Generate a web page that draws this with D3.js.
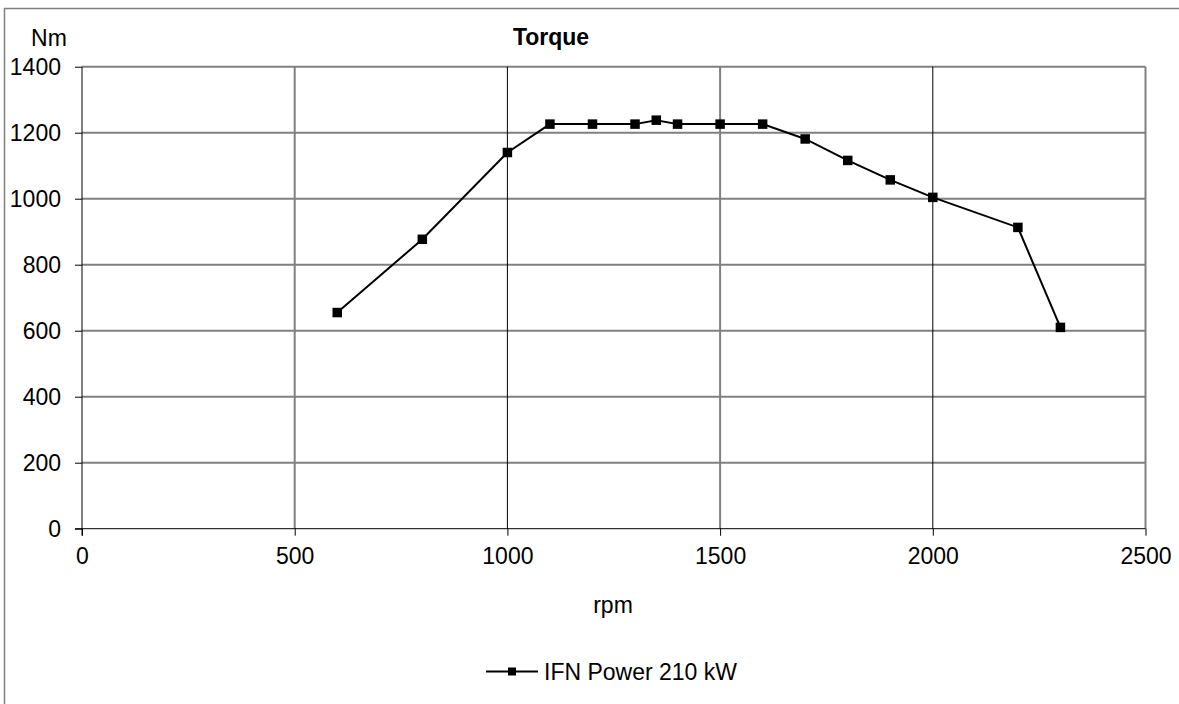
<!DOCTYPE html>
<html><head><meta charset="utf-8">
<script src="https://cdn.jsdelivr.net/npm/d3@7"></script>
<style>body{margin:0;background:#fff}svg{display:block;font-family:"Liberation Sans",Arial,sans-serif}</style>
</head><body>
<svg id="c" width="1179" height="704"></svg>
<script>
const rpm = [600, 800, 1000, 1100, 1200, 1300, 1350, 1400, 1500, 1600, 1700, 1800, 1900, 2000, 2200, 2300];
const torque = [655, 877, 1140, 1226, 1226, 1226, 1238, 1226, 1226, 1226, 1181, 1116, 1057, 1004, 913, 610];
const xTicks = [0, 500, 1000, 1500, 2000, 2500];
const yTicks = [0, 200, 400, 600, 800, 1000, 1200, 1400];
const title = "Torque", xTitle = "rpm", yTitle = "Nm", seriesName = "IFN Power 210 kW";

const svg = d3.select("#c");
const fs = 23;
svg.append("rect").attr("x", 4.5).attr("y", 8.5).attr("width", 1300).attr("height", 900)
  .attr("fill", "none").attr("stroke", "#808080").attr("stroke-width", 1.5);

const x = d3.scaleLinear().domain([0, 2500]).range([82, 1145.5]);
const y = d3.scaleLinear().domain([0, 1400]).range([528.7, 66.7]);

// grid (faint-looking lines rendered as 2px grey, as in the reference)
svg.append("g").selectAll("line").data(yTicks.slice(1)).join("line")
  .attr("x1", x(0)).attr("x2", x(2500)).attr("y1", d => y(d)).attr("y2", d => y(d))
  .attr("stroke", "#808080").attr("stroke-width", 2);
svg.append("g").selectAll("line").data(xTicks.slice(1)).join("line")
  .attr("x1", d => x(d)).attr("x2", d => x(d)).attr("y1", y(0)).attr("y2", y(1400))
  .attr("stroke", d => d % 1000 === 0 ? "#000" : "#808080")
  .attr("stroke-width", d => d % 1000 === 0 ? 1 : 2);

// axes
const yAxis = svg.append("g").attr("transform", `translate(${x(0)},0)`)
  .call(d3.axisLeft(y).tickValues(yTicks).tickSize(7).tickPadding(14).tickFormat(d3.format("d")));
const xAxis = svg.append("g").attr("transform", `translate(0,${y(0)})`)
  .call(d3.axisBottom(x).tickValues(xTicks).tickSize(7).tickPadding(12).tickFormat(d3.format("d")));
[yAxis, xAxis].forEach(a => {
  a.select(".domain").attr("stroke", "#000").attr("stroke-width", 1);
  a.selectAll(".tick line").attr("stroke", "#000");
  a.selectAll("text").attr("font-size", fs).attr("fill", "#000").attr("font-family", '"Liberation Sans",Arial,sans-serif');
});
yAxis.select(".domain").attr("d", `M0,${y(0)+7}V${y(1400)}`);
xAxis.select(".domain").attr("d", `M${x(0)-7},0H${x(2500)}`);

// titles
svg.append("text").attr("x", 551).attr("y", 45).attr("text-anchor", "middle")
  .attr("font-size", fs).attr("font-weight", "bold").text(title);
svg.append("text").attr("x", 49).attr("y", 45.5).attr("text-anchor", "middle")
  .attr("font-size", fs).text(yTitle);
svg.append("text").attr("x", 613).attr("y", 613).attr("text-anchor", "middle")
  .attr("font-size", fs).text(xTitle);

// series
const pts = rpm.map((r, i) => [r, torque[i]]);
svg.append("path").datum(pts)
  .attr("d", d3.line().x(d => x(d[0])).y(d => y(d[1])))
  .attr("fill", "none").attr("stroke", "#000").attr("stroke-width", 2);
const ms = 9.5;
svg.append("g").selectAll("rect").data(pts).join("rect")
  .attr("x", d => x(d[0]) - ms / 2).attr("y", d => y(d[1]) - ms / 2)
  .attr("width", ms).attr("height", ms).attr("fill", "#000");

// legend
const lg = svg.append("g");
lg.append("line").attr("x1", 486).attr("x2", 538).attr("y1", 671.5).attr("y2", 671.5)
  .attr("stroke", "#000").attr("stroke-width", 2);
lg.append("rect").attr("x", 512 - 4).attr("y", 671.5 - 4).attr("width", 8).attr("height", 8).attr("fill", "#000");
lg.append("text").attr("x", 544).attr("y", 680).attr("font-size", fs).text(seriesName);
</script>
</body></html>
